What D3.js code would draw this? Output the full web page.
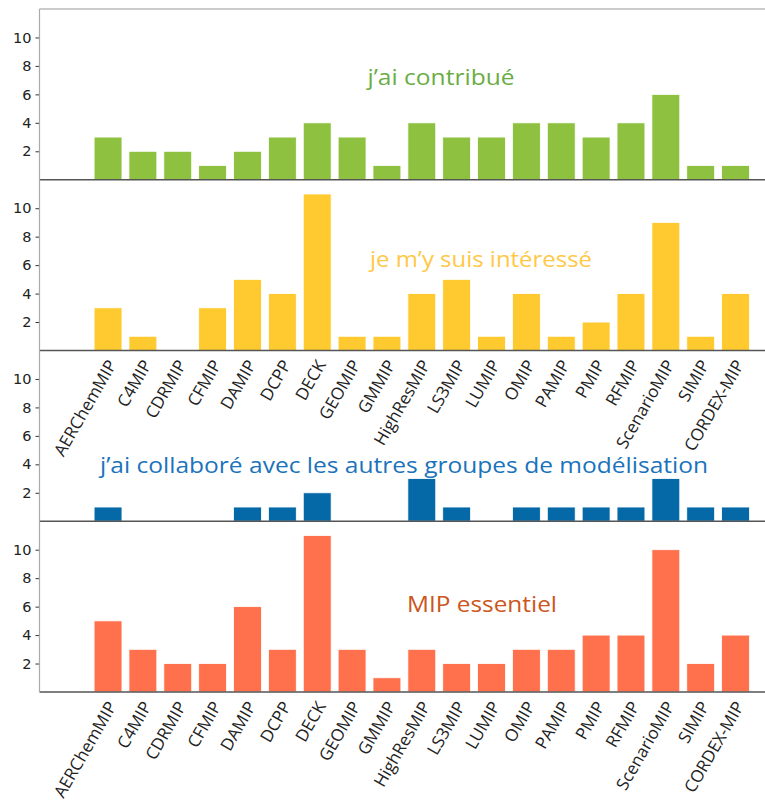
<!DOCTYPE html>
<html>
<head>
<meta charset="utf-8">
<script src="https://cdn.jsdelivr.net/npm/d3@7"></script>
<style>
  body { margin: 0; background: #fff; }
  svg { display: block; }
</style>
</head>
<body>
<svg id="chart" width="765" height="803"></svg>
<script>
const mips = ['AERChemMIP', 'C4MIP', 'CDRMIP', 'CFMIP', 'DAMIP', 'DCPP', 'DECK', 'GEOMIP', 'GMMIP',
    'HighResMIP', 'LS3MIP', 'LUMIP', 'OMIP', 'PAMIP', 'PMIP', 'RFMIP', 'ScenarioMIP', 'SIMIP', 'CORDEX-MIP'];

const contribue   = [3, 2, 2, 1, 2, 3, 4, 3, 1, 4, 3, 3, 4, 4, 3, 4, 6, 1, 1];
const interesse   = [3, 1, 0, 3, 5, 4, 11, 1, 1, 4, 5, 1, 4, 1, 2, 4, 9, 1, 4];
const collabore   = [1, 0, 0, 0, 1, 1, 2, 0, 0, 3, 1, 0, 1, 1, 1, 1, 3, 1, 1];
const essentiel   = [5, 3, 2, 2, 6, 3, 11, 3, 1, 3, 2, 2, 3, 3, 4, 4, 10, 2, 4];

const titles = ["j\u2019ai contribué", "je m\u2019y suis intéressé",
    "j\u2019ai collaboré avec les autres groupes de modélisation", "MIP essentiel"];
const yTicks = [2, 4, 6, 8, 10];

const panels = [
    {values: contribue, title: titles[0], bar: '#8dc13f', text: '#6aad45', tx: 441, ty: 85, tw: 147, labels: false},
    {values: interesse, title: titles[1], bar: '#ffca2f', text: '#ffc846', tx: 481, ty: 267, tw: 222, labels: true},
    {values: collabore, title: titles[2], bar: '#0669a7', text: '#1a73bb', tx: 404, ty: 473, tw: 608, labels: false},
    {values: essentiel, title: titles[3], bar: '#ff714d', text: '#cc5520', tx: 482, ty: 612, tw: 150, labels: true}
];

const svg = d3.select('#chart');
const left = 39.5, right = 765, plotTop = 9, panelH = 170.75;

const x = d3.scaleBand().domain(mips).range([90.6, 753]).paddingInner(0.2).paddingOuter(0.1);

panels.forEach((p, k) => {
    let y0 = plotTop + k * panelH;
    let y = d3.scaleLinear().domain([0, 12]).range([y0 + panelH, y0]);
    let g = svg.append('g');

    g.selectAll('rect').data(p.values).enter().append('rect')
        .attr('x', (d, i) => x(mips[i]))
        .attr('width', x.bandwidth())
        .attr('y', d => y(d))
        .attr('height', d => y(0) - y(d))
        .attr('fill', p.bar)
        .attr('stroke', '#fff')
        .attr('stroke-width', 0.8)
        .style('display', d => d > 0 ? null : 'none');

    let ax = g.append('g').attr('transform', `translate(${left},0)`)
        .call(d3.axisLeft(y).tickValues(yTicks).tickSize(4).tickPadding(4));
    ax.select('.domain').remove();
    ax.selectAll('line').attr('stroke', '#333');
    ax.selectAll('text').attr('font-family', 'DejaVu Sans').attr('font-size', 14.5).attr('fill', '#222');

    g.append('line').attr('x1', left).attr('x2', right)
        .attr('y1', y(0)).attr('y2', y(0))
        .attr('stroke', '#555').attr('stroke-width', 1.5);

    g.append('text').attr('x', p.tx).attr('y', p.ty)
        .attr('text-anchor', 'middle')
        .attr('font-family', 'Open Sans').attr('font-size', 21)
        .attr('textLength', p.tw).attr('lengthAdjust', 'spacingAndGlyphs')
        .attr('fill', p.text).text(p.title);

    if (p.labels) {
        g.selectAll('.lab').data(mips).enter().append('text')
            .attr('class', 'lab')
            .attr('transform', d => `translate(${x(d) + x.bandwidth() / 2 + 4},${y(0) + 11}) rotate(-60)`)
            .attr('text-anchor', 'end')
            .attr('dy', '0.35em')
            .attr('font-family', 'Open Sans').attr('font-size', 17)
            .attr('fill', '#222')
            .text(d => d);
    }
});

// top frame line and left spine
svg.append('line').attr('x1', left).attr('x2', right).attr('y1', plotTop).attr('y2', plotTop)
    .attr('stroke', '#ccc').attr('stroke-width', 2);
svg.append('line').attr('x1', left).attr('x2', left).attr('y1', plotTop).attr('y2', plotTop + 4 * panelH)
    .attr('stroke', '#aaa').attr('stroke-width', 1.2);
</script>
</body>
</html>
